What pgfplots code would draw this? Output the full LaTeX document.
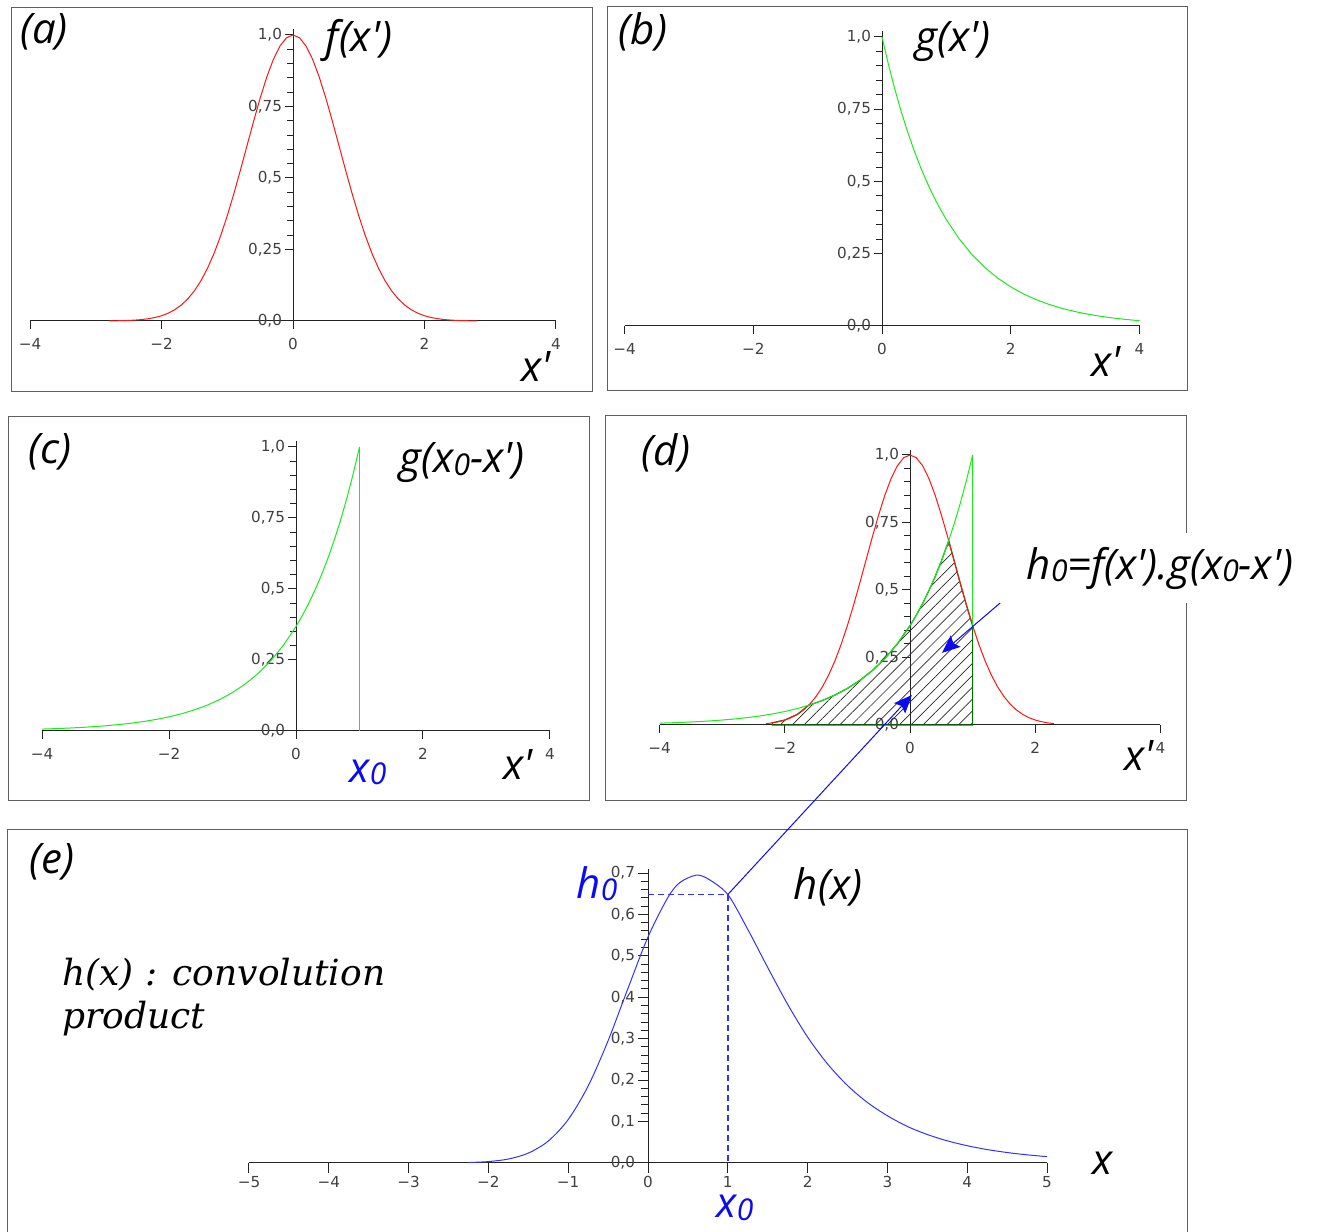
\documentclass[border=0pt]{standalone}
\usepackage{fontspec}
\usepackage{pgfplots}
\pgfplotsset{compat=1.18}
\usepackage{pgfplotstable}
\usetikzlibrary{patterns.meta,arrows.meta}

\newfontfamily\lblfam{Open Sans}[Ligatures=TeXOff]
\newfontfamily\serfam{DejaVu Serif}[Ligatures=TeXOff]
\newfontfamily\tickfam{DejaVu Sans}[Ligatures=TeXOff]
\newcommand\lbl{\lblfam\itshape\fontsize{21}{24}\selectfont}
\newcommand\sub[1]{\raisebox{-0.05em}{\fontsize{15}{15}\selectfont #1}}
\newcommand\tickfont{\tickfam\fontsize{7.6}{8}\selectfont}

\definecolor{cred}{RGB}{255,20,20}
\definecolor{cgreen}{RGB}{25,235,25}
\definecolor{dgreen}{RGB}{0,115,0}
\definecolor{cblue}{RGB}{50,50,255}
\definecolor{lblue}{RGB}{10,10,245}
\definecolor{axgray}{RGB}{35,35,35}
\definecolor{boxgray}{RGB}{95,95,95}

% f(x') = Gaussian
\pgfplotstableread{
x y
-2.8 0.00039
-2.7 0.00068
-2.6 0.00116
-2.5 0.00193
-2.4 0.00315
-2.3 0.00504
-2.2 0.00791
-2.1 0.01216
-2.0 0.01832
-1.9 0.02705
-1.8 0.03916
-1.7 0.05558
-1.6 0.07730
-1.5 0.10540
-1.4 0.14086
-1.3 0.18452
-1.2 0.23693
-1.1 0.29820
-1.0 0.36788
-0.9 0.44486
-0.8 0.52729
-0.7 0.61263
-0.6 0.69768
-0.5 0.77880
-0.4 0.85214
-0.3 0.91393
-0.2 0.96079
-0.1 0.99005
0.0 1.00000
0.1 0.99005
0.2 0.96079
0.3 0.91393
0.4 0.85214
0.5 0.77880
0.6 0.69768
0.7 0.61263
0.8 0.52729
0.9 0.44486
1.0 0.36788
1.1 0.29820
1.2 0.23693
1.3 0.18452
1.4 0.14086
1.5 0.10540
1.6 0.07730
1.7 0.05558
1.8 0.03916
1.9 0.02705
2.0 0.01832
2.1 0.01216
2.2 0.00791
2.3 0.00504
2.4 0.00315
2.5 0.00193
2.6 0.00116
2.7 0.00068
2.8 0.00039
}\ftab

% g(x') = decaying exponential for x' >= 0
\pgfplotstableread{
x y
0.0 1.00000
0.1 0.90484
0.2 0.81873
0.3 0.74082
0.4 0.67032
0.5 0.60653
0.6 0.54881
0.7 0.49659
0.8 0.44933
0.9 0.40657
1.0 0.36788
1.2 0.30119
1.4 0.24660
1.6 0.20190
1.8 0.16530
2.0 0.13534
2.2 0.11080
2.4 0.09072
2.6 0.07427
2.8 0.06081
3.0 0.04979
3.2 0.04076
3.4 0.03337
3.6 0.02732
3.8 0.02237
4.0 0.01832
4.2 0.01500
4.4 0.01228
4.6 0.01005
4.8 0.00823
5.0 0.00674
}\gtab

% overlap of f(x') and g(x0-x') for x0 = 1 (lower envelope)
\pgfplotstableread{
x y
-2.2 0.00791
-2.0 0.01832
-1.8 0.03916
-1.618 0.07295
-1.4 0.09072
-1.2 0.11080
-1.0 0.13534
-0.8 0.16530
-0.6 0.20190
-0.4 0.24660
-0.2 0.30119
0.0 0.36788
0.1 0.40657
0.2 0.44933
0.3 0.49659
0.4 0.54881
0.5 0.60653
0.618 0.68250
0.7 0.61263
0.8 0.52729
0.9 0.44486
1.0 0.36788
}\mintab

% h(x): convolution product
\pgfplotstableread{
x y
-2.25 0.00109
-2.0 0.00342
-1.75 0.00958
-1.5 0.02386
-1.25 0.05294
-1.0 0.10484
-0.75 0.18574
-0.5 0.29512
-0.25 0.42205
0.0 0.54564
0.25 0.64134
0.4 0.67699
0.6 0.69460
0.75 0.68606
1.0 0.64800
1.25 0.56400
1.5 0.47200
1.75 0.38300
2.0 0.30400
2.25 0.23900
2.5 0.18700
2.75 0.14600
3.0 0.11400
3.25 0.08824
3.5 0.06873
3.75 0.05352
4.0 0.04169
4.25 0.03246
4.5 0.02528
4.75 0.01969
5.0 0.01534
}\htab

\pgfplotsset{
  panel/.style={
    scale only axis, anchor=origin, clip=false,
    axis lines=middle,
    axis line style={-, draw=axgray, line width=0.5pt},
    enlargelimits=false,
    tick align=outside,
    major tick length=4pt, minor tick length=3pt,
    tick style={draw=axgray, line width=0.5pt},
    tick label style={font=\tickfont, text=black!75},
    xticklabel style={yshift=-1pt},
    yticklabel style={xshift=2pt},
    xmin=-4, xmax=4, ymin=0, ymax=1.02,
    xtick={-4,-2,2,4}, xticklabels={−4,−2,2,4},
    ytick={0.25,0.5,0.75,1},
    yticklabels={{0,25},{0,5},{0,75},{1,0}},
    extra x ticks={0}, extra x tick labels={0},
    extra y ticks={0}, extra y tick labels={0{,}0},
    extra tick style={tick align=outside},
    minor x tick num=4, minor y tick num=4,
  },
  curve/.style={line width=0.5pt, mark=none},
}

\begin{document}
\begin{tikzpicture}

% (a) f(x')
\begin{axis}[panel, at={(146.5pt,455.5pt)}, width=263pt, height=145.86pt]
  \addplot[curve, cred] table {\ftab};
\end{axis}

% (b) g(x')
\begin{axis}[panel, at={(441pt,453pt)}, width=257.5pt, height=147.4pt]
  \addplot[curve, cgreen, restrict x to domain=0:4] table {\gtab};
\end{axis}

% (c) g(x0-x'), x0 = 1
\begin{axis}[panel, at={(148pt,250.5pt)}, width=254pt, height=144.84pt]
  \addplot[curve, cgreen] table[x expr=1-\thisrow{x}, y=y] {\gtab};
  \addplot[cgreen, line width=0.7pt] coordinates {(1,1) (1,0)};
\end{axis}

% (d) product region
\begin{axis}[panel, at={(455pt,253.5pt)}, width=250.5pt, height=137.7pt]
  \addplot[draw=dgreen, line width=0.6pt,
    pattern={Lines[angle=45,distance=4.2pt,line width=0.35pt]},
    pattern color=black!85] table {\mintab} \closedcycle;
  \addplot[curve, cred, restrict x to domain=-2.35:2.35] table {\ftab};
  \addplot[curve, cgreen] table[x expr=1-\thisrow{x}, y=y] {\gtab};
  \addplot[curve, cgreen] coordinates {(1,1) (1,0.37)};
  \coordinate (a1s) at (axis cs:1.44,0.452);
  \coordinate (a1e) at (axis cs:0.51,0.267);
  \coordinate (a2e) at (axis cs:0.03,0.111);
\end{axis}

% (e) h(x)
\begin{axis}[panel, at={(324pt,34.5pt)}, width=399pt, height=147.07pt,
    xmin=-5, xmax=5, ymax=0.71,
    major tick length=5pt, minor tick length=3.5pt,
    xticklabel style={yshift=0.5pt, inner sep=1pt},
    xtick={-5,-4,-3,-2,-1,1,2,3,4,5}, xticklabels={−5,−4,−3,−2,−1,1,2,3,4,5},
    ytick={0.1,0.2,...,0.7},
    yticklabels={{0,1},{0,2},{0,3},{0,4},{0,5},{0,6},{0,7}},
    minor x tick num=1, minor y tick num=4]
  \addplot[curve, cblue, smooth] table {\htab};
  \addplot[draw=cblue, line width=0.8pt, dash pattern=on 3pt off 2pt] coordinates {(0,0.648) (1,0.648) (1,0)};
  \coordinate (h0p) at (axis cs:1,0.648);
\end{axis}

\begin{scope}[x=0.5pt, y=-0.5pt, yshift=616pt]
  % panel frames
  \draw[boxgray, line width=0.5pt] (11,8) rectangle (592,392);
  \draw[boxgray, line width=0.5pt] (607,7) rectangle (1187,391);
  \draw[boxgray, line width=0.5pt] (8,417) rectangle (589,801);
  \draw[boxgray, line width=0.5pt] (605,416) rectangle (1186,801);
  \draw[boxgray, line width=0.5pt] (7,1240) -- (7,830) -- (1187,830) -- (1187,1240);

  % labels
  \node at (44,32) {\lbl (a)};
  \node at (359,40) {\lbl f(x')};
  \node at (536,367) {\lbl x'};

  \node at (643,32) {\lbl (b)};
  \node at (953,42) {\lbl g(x')};
  \node at (1106,362) {\lbl x'};

  \node at (50,452) {\lbl (c)};
  \node at (462,463) {\lbl g(x\sub{0}-x')};
  \node[lblue] at (368,772) {\lbl x\sub{0}};
  \node at (518,765) {\lbl x'};

  \node at (666,453) {\lbl (d)};
  \node at (1139,756) {\lbl x'};
  \node[fill=white, inner xsep=3pt, minimum height=35pt] at (1160,568)
    {\lbl h\sub{0}=f(x').g(x\sub{0}-x')};

  \node at (52,862) {\lbl (e)};
  \node[anchor=base west, inner sep=0pt] at (62,986) {\serfam\itshape\fontsize{18}{20}\selectfont h(x) : convolution};
  \node[anchor=base west, inner sep=0pt] at (62,1029) {\serfam\itshape\fontsize{18}{20}\selectfont product};
  \node at (828,887) {\lbl h(x)};
  \node[lblue, inner sep=1pt] at (597,884) {\lbl h\sub{0}};
  \node[lblue, inner sep=0pt, anchor=base] at (735,1218) {\lbl x\sub{0}};
  \node at (1103,1163) {\lbl x};
\end{scope}

% pointers from the product region and from h0
\draw[lblue, line width=0.5pt, -{Stealth[length=9pt,width=7.5pt,inset=1.5pt]}] (a1s) -- (a1e);
\draw[lblue, line width=0.5pt, -{Stealth[length=9pt,width=7.5pt,inset=1.5pt]}] (h0p) -- (a2e);

\pgfresetboundingbox
\path[use as bounding box] (0,0) rectangle (659.5pt,616pt);
\end{tikzpicture}
\end{document}
